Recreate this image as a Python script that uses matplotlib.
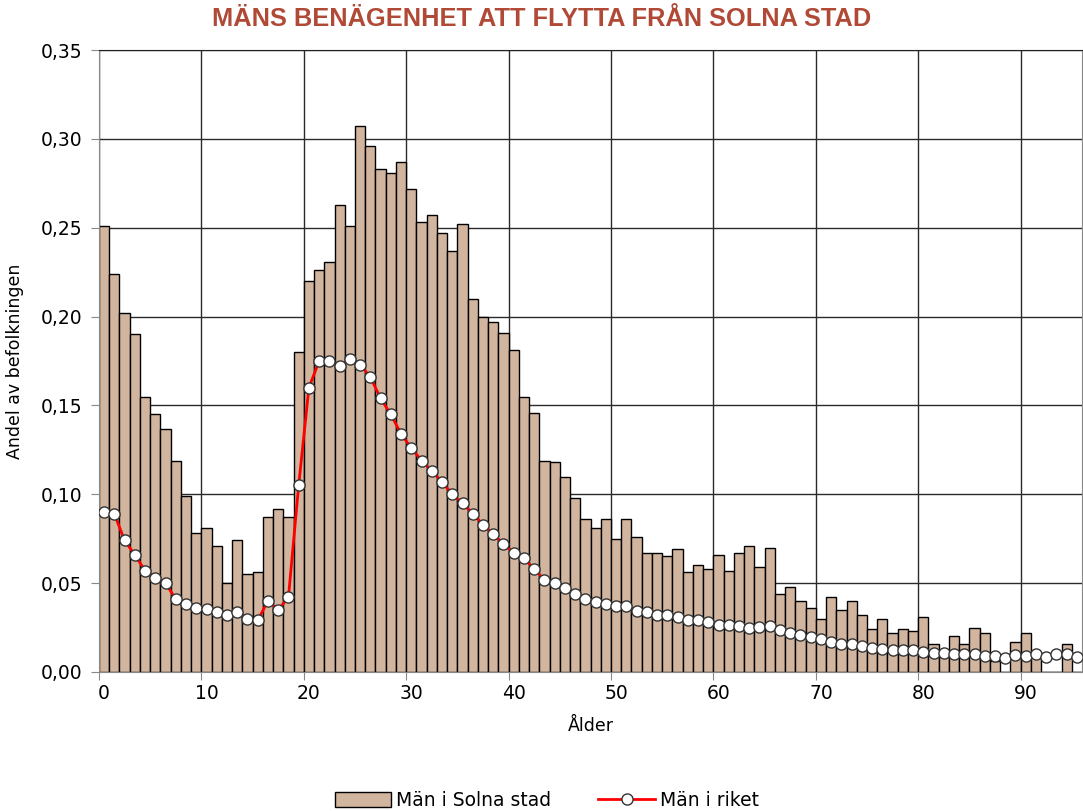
import numpy as np
import matplotlib
matplotlib.use("Agg")
import matplotlib.pyplot as plt
from matplotlib.ticker import FuncFormatter

# Ålder 0-95
ages = np.arange(0, 96)

# Andel som flyttar, män i Solna stad
solna = [0.251, 0.224, 0.202, 0.190, 0.155, 0.145, 0.137, 0.119, 0.099, 0.078,
         0.081, 0.071, 0.050, 0.074, 0.055, 0.056, 0.087, 0.092, 0.087, 0.180,
         0.220, 0.226, 0.231, 0.263, 0.251, 0.307, 0.296, 0.283, 0.281, 0.287,
         0.272, 0.253, 0.257, 0.247, 0.237, 0.252, 0.210, 0.200, 0.197, 0.191,
         0.181, 0.155, 0.146, 0.119, 0.118, 0.110, 0.098, 0.086, 0.081, 0.086,
         0.075, 0.086, 0.076, 0.067, 0.067, 0.065, 0.069, 0.056, 0.060, 0.058,
         0.066, 0.057, 0.067, 0.071, 0.059, 0.070, 0.044, 0.048, 0.040, 0.036,
         0.030, 0.042, 0.035, 0.040, 0.032, 0.024, 0.030, 0.022, 0.024, 0.023,
         0.031, 0.016, 0.012, 0.020, 0.016, 0.025, 0.022, 0.006, 0.000, 0.017,
         0.022, 0.009, 0.000, 0.000, 0.016, 0.000]

# Andel som flyttar, män i riket
riket = [0.090, 0.089, 0.074, 0.066, 0.057, 0.053, 0.050, 0.041, 0.038, 0.036,
         0.0355, 0.034, 0.032, 0.034, 0.030, 0.029, 0.040, 0.035, 0.042, 0.105,
         0.160, 0.175, 0.175, 0.172, 0.176, 0.173, 0.166, 0.154, 0.145, 0.134,
         0.126, 0.119, 0.113, 0.107, 0.100, 0.095, 0.089, 0.083, 0.0775, 0.072,
         0.067, 0.064, 0.058, 0.052, 0.050, 0.047, 0.044, 0.041, 0.0395, 0.038,
         0.037, 0.0374, 0.0344, 0.0336, 0.0323, 0.0323, 0.031, 0.029, 0.029, 0.028,
         0.0265, 0.0263, 0.026, 0.0248, 0.0254, 0.0258, 0.0237, 0.022, 0.0207, 0.0198,
         0.0183, 0.0166, 0.016, 0.016, 0.0147, 0.0136, 0.0129, 0.0125, 0.0121, 0.0121,
         0.011, 0.0106, 0.0106, 0.010, 0.0099, 0.010, 0.0088, 0.009, 0.0076, 0.0093,
         0.0088, 0.0099, 0.0084, 0.0099, 0.0099, 0.0086]

label_ticks = [0, 10, 20, 30, 40, 50, 60, 70, 80, 90]
title = "MÄNS BENÄGENHET ATT FLYTTA FRÅN SOLNA STAD"


def main():
    plt.rcParams['font.family'] = ['DejaVu Sans']

    fig = plt.figure(figsize=(10.83, 8.11), dpi=100)
    ax = fig.add_axes([0.0914, 0.1714, 0.9077, 0.7669])

    # staplar och linje
    bars = ax.bar(ages, solna, width=1.0, color='#D2B59E', edgecolor='black',
                  linewidth=1.0, zorder=2, label='Män i Solna stad')
    line, = ax.plot(ages, riket, color='#FF0000', linewidth=2, marker='o',
                    markersize=8, markerfacecolor='white', markeredgecolor='#333333',
                    markeredgewidth=1.0, zorder=3, label='Män i riket')

    ax.set_xlim(-0.5, 95.5)
    ax.set_ylim(0, 0.35)

    # rutnät mellan kategorierna, etiketter mitt på
    ax.set_xticks(np.arange(-0.5, 95, 10))
    ax.set_xticklabels([])
    ax.set_xticks(label_ticks, minor=True)
    ax.set_xticklabels([str(t) for t in label_ticks], minor=True)
    ax.tick_params(axis='x', which='minor', length=0, labelsize=13.5, pad=9)
    ax.tick_params(axis='x', which='major', length=6, color='#888888')

    ax.set_yticks(np.arange(0, 0.351, 0.05))
    ax.yaxis.set_major_formatter(FuncFormatter(lambda v, p: f"{v:.2f}".replace('.', ',')))
    ax.tick_params(axis='y', length=6, color='#888888', labelsize=13.5, pad=6)

    ax.grid(True, which='major', color='#2a2a2a', linewidth=1.0, zorder=0)
    ax.set_axisbelow(True)

    for side in ['left', 'right', 'bottom']:
        ax.spines[side].set_color('#888888')
    ax.spines['top'].set_color('#222222')

    ax.set_xlabel('Ålder', fontsize=12.5, labelpad=10)
    ax.set_ylabel('Andel av befolkningen', fontsize=12.5, labelpad=12)

    fig.text(0.5, 0.977, title, ha='center', va='center', fontsize=18.3,
             fontweight='bold', color='#B04A37', family=['Liberation Sans'])

    fig.legend([bars, line], ['Män i Solna stad', 'Män i riket'],
               loc='center', bbox_to_anchor=(0.505, 0.013), ncol=2, frameon=False,
               fontsize=13.5, handlelength=3.0, handleheight=0.8,
               columnspacing=2.5, handletextpad=0.3)

    fig.savefig('out.png', dpi=100)


if __name__ == "__main__":
    main()
